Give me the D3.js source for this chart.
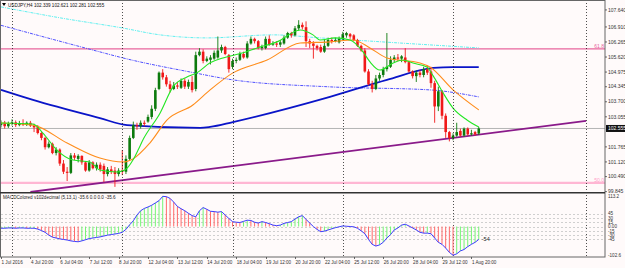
<!DOCTYPE html>
<html>
<head>
<meta charset="utf-8">
<script src="https://cdn.jsdelivr.net/npm/d3@7"></script>
<style>
html, body { margin: 0; padding: 0; background: #fffafa; }
svg { display: block; font-family: "Liberation Sans", Arial, sans-serif; }
</style>
</head>
<body>
<div id="chart"></div>
<script>
const W = 625, H = 268;

// header
const symbol = "USDJPY,H4";
const lastQuote = [102.339, 102.621, 102.281, 102.555];

// H4 candles, first bar = 1 Jul 12:00 : [open, high, low, close]
const ohlc = [
  [102.70,102.90,102.60,102.80],[102.80,102.88,102.55,102.65],[102.65,102.85,102.58,102.75],[102.75,102.95,102.68,102.82],
  [102.82,102.90,102.62,102.70],[102.70,102.88,102.65,102.78],[102.78,102.95,102.66,102.72],[102.72,102.86,102.66,102.80],
  [102.80,102.88,102.62,102.68],[102.68,102.76,102.40,102.60],[102.62,102.70,102.30,102.36],[102.36,102.40,102.05,102.15],
  [102.15,102.20,101.65,101.75],[101.75,102.00,101.70,101.90],[101.90,101.95,101.45,101.50],[101.50,101.75,101.40,101.65],
  [101.65,101.70,100.95,101.05],[101.05,101.20,100.60,100.70],[100.70,100.90,100.30,100.65],[100.65,101.50,100.60,101.40],
  [101.40,101.50,101.20,101.30],[101.25,101.45,101.10,101.38],[101.38,101.40,101.00,101.10],[101.10,101.15,100.70,100.75],
  [100.75,101.20,100.70,101.10],[101.10,101.15,100.80,100.85],[100.85,101.10,100.75,101.00],[101.00,101.10,100.70,100.80],
  [100.95,101.05,100.26,100.60],[100.60,100.90,100.50,100.80],[100.80,100.95,100.60,100.70],[100.75,100.90,100.05,100.60],
  [100.60,100.85,100.50,100.75],[100.75,101.63,100.55,100.70],[100.70,101.40,100.60,101.25],[101.25,102.25,101.20,102.15],
  [102.15,102.85,102.10,102.70],[102.70,102.80,102.50,102.65],[102.65,102.90,102.55,102.80],[102.80,102.90,102.65,102.75],
  [102.85,103.15,102.80,103.05],[103.05,103.55,102.95,103.40],[103.40,104.30,103.30,104.20],[104.25,105.00,104.20,104.95],
  [104.95,105.10,104.65,104.75],[104.75,104.85,104.35,104.45],[104.45,104.60,104.10,104.25],[104.25,104.55,104.20,104.40],
  [104.40,104.55,104.25,104.35],[104.30,104.70,104.25,104.60],[104.60,104.70,104.25,104.35],[104.35,104.65,104.25,104.55],
  [104.55,104.80,104.10,104.20],[104.25,105.85,104.15,105.70],[105.70,106.00,105.65,105.85],[105.85,105.95,105.35,105.45],
  [105.45,105.65,105.40,105.55],[105.50,105.70,105.30,105.60],[105.55,105.90,105.50,105.80],[105.60,106.50,105.55,105.90],
  [105.90,106.15,105.80,106.05],[106.05,106.10,105.70,105.75],[105.70,105.75,104.95,105.10],[105.20,105.55,105.10,105.45],
  [105.45,105.60,105.35,105.50],[105.50,105.85,105.45,105.75],[105.75,105.85,105.55,105.60],[105.60,106.30,105.55,106.20],
  [106.20,106.50,106.15,106.40],[106.40,106.45,106.20,106.30],[106.30,106.35,105.95,106.00],[106.00,106.15,105.90,106.05],
  [106.00,106.50,105.95,106.40],[106.40,106.55,106.10,106.15],[106.15,106.30,106.10,106.20],[106.20,106.30,106.05,106.15],
  [106.15,106.35,106.05,106.25],[106.20,106.55,106.15,106.45],[106.45,106.70,106.40,106.65],[106.65,106.70,106.45,106.55],
  [106.55,106.95,106.50,106.85],[106.85,107.20,106.75,107.00],[107.00,107.10,106.80,106.90],[106.90,107.15,106.05,106.30],
  [106.30,106.40,106.00,106.20],[106.20,106.30,105.55,106.10],[106.10,106.15,105.90,106.00],[106.05,106.15,105.80,105.85],
  [105.85,106.35,105.80,106.10],[106.10,106.45,106.05,106.35],[106.35,106.45,106.20,106.30],[106.30,106.45,106.25,106.35],
  [106.25,106.50,106.20,106.40],[106.40,106.70,106.35,106.60],[106.55,106.70,106.45,106.65],[106.60,106.65,106.40,106.50],
  [106.55,106.60,106.30,106.35],[106.35,106.40,106.05,106.10],[106.10,106.15,105.85,105.90],[105.90,106.00,104.95,105.00],
  [105.00,105.10,104.40,104.45],[104.45,104.60,104.10,104.25],[104.25,104.85,104.20,104.70],[104.70,104.95,104.60,104.85],
  [104.85,105.20,104.75,105.10],[105.10,106.65,105.00,105.20],[105.20,105.65,105.15,105.50],[105.50,105.70,105.40,105.60],
  [105.60,105.75,105.45,105.55],[105.55,105.70,105.40,105.65],[105.60,106.00,105.35,105.40],[105.40,105.45,104.95,105.00],
  [105.00,105.05,104.70,104.80],[104.80,105.05,104.55,104.95],[104.95,105.05,104.75,104.85],[104.85,105.20,104.75,105.10],
  [105.10,105.25,104.85,104.95],[105.00,105.20,104.30,104.50],[104.50,104.60,102.80,103.50],[103.50,104.35,103.30,104.15],
  [104.15,104.20,102.95,103.10],[103.10,103.20,102.15,102.40],[102.40,102.45,102.00,102.15],[102.15,102.35,102.05,102.25],
  [102.25,102.80,102.20,102.40],[102.45,102.55,102.20,102.25],[102.25,102.60,102.20,102.55],[102.55,102.60,102.25,102.30],
  [102.30,102.50,102.25,102.35],[102.40,102.45,102.25,102.30],[102.339,102.621,102.281,102.555]
];

// moving averages: bar index / price
const fastMaIdx = [0,8.7,11.4,15.2,19.6,24.2,26.9,31.6,33.7,35.9,37.3,38.6,43.3,46.8,50.6,53.3,56.9,60.4,65.9,69.7,75.1,81.4,84.9,86.8,90.9,95,98.5,100.4,103.1,106.7,109.4,112.1,115.9,117.6,120.3,123,126.8,130];
const fastMaVal = [102.79,102.75,102.36,101.63,101.20,101.12,100.77,100.69,100.77,101.20,101.63,102.06,103.22,104.34,104.76,104.94,105.37,105.58,105.80,106.01,106.27,106.78,106.57,106.35,106.44,106.35,105.84,105.41,105.06,105.36,105.49,105.36,105.19,104.81,104.08,103.43,102.92,102.62];
const midMaIdx = [0,8.7,18,26.9,33.2,35.9,40.5,45.2,52.2,56.9,63.1,72.4,81.4,89.5,95.8,100.4,105,114,116.7,123,130];
const midMaVal = [102.79,102.70,101.93,101.29,101.12,101.25,101.93,102.92,103.56,104.21,104.94,105.49,106.22,106.27,106.35,106.01,105.58,105.36,105.19,104.21,103.35];
const slowMaIdx = [0,8.7,26.9,34.3,54.2,56.9,63.1,89.5,105,117.6,123,130];
const slowMaVal = [104.21,103.78,103.00,102.70,102.58,102.62,102.83,103.91,104.64,105.15,105.19,105.19];
const dotMaIdx = [0,26.9,33.2,51.4,63.1,89.5,116.7,130];
const dotMaVal = [106.98,105.84,105.58,104.98,104.64,104.34,104.21,103.91];
const cyanMaIdx = [0,16.1,32.9,43.3,56.1,74,86.8,116.7,130];
const cyanMaVal = [107.77,107.30,106.87,106.57,106.44,106.57,106.44,106.14,106.01];

// drawn objects
const trendline = [[8, 99.83], [159.2, 102.88]];
const fibNames = ["61.8", "50.0"];
const fibPrices = [105.97, 100.22];
const separatorIdx = [3, 33, 63, 93, 123, 159.2];

// axes
const priceTicks = [107.640,106.910,106.265,105.620,104.975,104.345,103.700,103.055,101.765,101.120,100.490,99.845];
const timeIdx = [0,8,16,24,32,40,48,56,64,72,80,88,96,104,112,120,128];
const timeLabels = ["1 Jul 2016","4 Jul 20:00","6 Jul 04:00","7 Jul 12:00","8 Jul 20:00","12 Jul 04:00","13 Jul 12:00",
  "14 Jul 20:00","18 Jul 04:00","19 Jul 12:00","20 Jul 20:00","22 Jul 04:00","25 Jul 12:00","26 Jul 20:00",
  "28 Jul 04:00","29 Jul 12:00","1 Aug 20:00"];

// MACD histogram (one value per bar)
const macd = [-6,-6,-5,-5,-6,-5,-5,-6,-6,-6,-9,-14,-20,-30,-37,-40,-43,-45,-47,-50,-52,-53,-50,-46,-42,-40,-38,-36,-33,-30,
  -28,-26,-24,-20,-10,6,20,40,55,63,68,74,82,90,105,104,98,85,70,62,55,46,38,34,55,66,60,53,52,50,
  52,40,28,17,15,14,18,22,21,15,12,17,14,10,5,3,5,11,14,17,26,34,38,25,12,0,-10,-18,-16,-12,
  -8,-4,-1,2,1,0,-1,-6,-15,-25,-45,-62,-68,-64,-55,-40,-28,-12,-5,5,8,2,-5,-12,-20,-23,-23,-25,-40,-55,
  -62,-75,-90,-100,-95,-85,-80,-70,-62,-55,-45];
const macdLevels = [45, 30, 15, 0, -15, -30, -45];
const macdLevelText = ["45", "30", "15", "0.00", "-15", "-30", "-45"];
const macdRange = [-102.6, 113.2];
const macdTitle = "MACDColored v102decimal (5,13,1) -35.6 0.0 0.0 -35.6";
const macdTag = "-54";

const plotR = 605, mainTop = 2, mainBot = 192, subTop = 194, subBot = 256;

const svg = d3.select("#chart").append("svg")
  .attr("width", W).attr("height", H);

svg.append("rect").attr("width", W).attr("height", H).attr("fill", "#fffafa");

const x = d3.scaleLinear().domain([0, 164.35]).range([1, plotR]);
const y = d3.scaleLinear().domain([99.83, 107.98]).range([mainBot, mainTop]);
const ym = d3.scaleLinear().domain(macdRange).range([subBot, subTop]);

const defs = svg.append("defs");
defs.append("clipPath").attr("id", "clipMain")
  .append("rect").attr("x", 0).attr("y", mainTop - 2).attr("width", plotR).attr("height", mainBot - mainTop + 2);

const main = svg.append("g").attr("clip-path", "url(#clipMain)");

// period separators (both panels)
svg.append("g").selectAll("line").data(separatorIdx).enter().append("line")
  .attr("x1", d => Math.round(x(d)) + 0.5).attr("x2", d => Math.round(x(d)) + 0.5)
  .attr("y1", 0).attr("y2", subBot + 1)
  .attr("stroke", "#222").attr("stroke-width", 0.8).attr("stroke-dasharray", "1,2");

// fibonacci levels
main.selectAll(".fib").data(fibPrices).enter().append("line")
  .attr("x1", 0).attr("x2", plotR)
  .attr("y1", d => y(d)).attr("y2", d => y(d))
  .attr("stroke", (d, i) => i === 0 ? "#e8649c" : "#ffb6d3")
  .attr("stroke-width", (d, i) => i === 0 ? 1.1 : 2.4);
svg.selectAll(".fibtxt").data(fibPrices).enter().append("text")
  .attr("x", plotR - 1).attr("y", d => y(d) - 0.5)
  .attr("text-anchor", "end").attr("font-size", 5)
  .attr("fill", (d, i) => i === 0 ? "#e8649c" : "#ff9cc8")
  .text((d, i) => fibNames[i]);

// bid line
main.append("line").attr("x1", 0).attr("x2", plotR)
  .attr("y1", y(lastQuote[3])).attr("y2", y(lastQuote[3]))
  .attr("stroke", "#b4b4b4").attr("stroke-width", 1);

const maLine = (idx, val) => d3.line()
  .x((d, i) => x(idx[i])).y(d => y(d))
  .curve(d3.curveMonotoneX)(val);

main.append("path").attr("d", maLine(cyanMaIdx, cyanMaVal))
  .attr("fill", "none").attr("stroke", "#5ff0f0").attr("stroke-width", 1).attr("stroke-dasharray", "3,1,1,1");
main.append("path").attr("d", maLine(dotMaIdx, dotMaVal))
  .attr("fill", "none").attr("stroke", "#5050ff").attr("stroke-width", 1).attr("stroke-dasharray", "3,1,1,1");
main.append("path").attr("d", maLine(slowMaIdx, slowMaVal))
  .attr("fill", "none").attr("stroke", "#0a14c8").attr("stroke-width", 1.8);

// trend line
main.append("line")
  .attr("x1", x(trendline[0][0])).attr("y1", y(trendline[0][1]))
  .attr("x2", x(trendline[1][0])).attr("y2", y(trendline[1][1]))
  .attr("stroke", "#8a1a8a").attr("stroke-width", 1.8);

// candles
const bw = 2.6;
const candles = main.selectAll(".c").data(ohlc).enter().append("g");
candles.append("line")
  .attr("x1", (d, i) => x(i)).attr("x2", (d, i) => x(i))
  .attr("y1", d => y(d[1])).attr("y2", d => y(d[2]))
  .attr("stroke", d => d[3] >= d[0] ? "#0d7a0d" : "#f01818").attr("stroke-width", 0.9);
candles.append("rect")
  .attr("x", (d, i) => x(i) - bw / 2).attr("width", bw)
  .attr("y", d => y(Math.max(d[0], d[3])))
  .attr("height", d => Math.max(0.8, Math.abs(y(d[0]) - y(d[3]))))
  .attr("fill", d => d[3] >= d[0] ? "#0d7a0d" : "#f01818");

main.append("path").attr("d", maLine(midMaIdx, midMaVal))
  .attr("fill", "none").attr("stroke", "#ff8c1a").attr("stroke-width", 1.1);
main.append("path").attr("d", maLine(fastMaIdx, fastMaVal))
  .attr("fill", "none").attr("stroke", "#22e622").attr("stroke-width", 1.1);

// header
svg.append("path").attr("d", "M2,3 L6,3 L4,6 Z").attr("fill", "#000");
svg.append("text").attr("x", 8).attr("y", 6.5).attr("font-size", 4.6).attr("fill", "#111")
  .text(symbol + "  " + lastQuote.map(v => v.toFixed(3)).join(" "));

// ----- MACD panel -----
const sub = svg.append("g");
sub.selectAll(".lvl").data(macdLevels).enter().append("line")
  .attr("x1", 1).attr("x2", plotR)
  .attr("y1", d => Math.round(ym(d)) + 0.5).attr("y2", d => Math.round(ym(d)) + 0.5)
  .attr("stroke", "#c4c4c4").attr("stroke-width", 0.8).attr("stroke-dasharray", "2,2");

sub.selectAll(".bar").data(macd).enter().append("line")
  .attr("x1", (d, i) => x(i)).attr("x2", (d, i) => x(i))
  .attr("y1", ym(0)).attr("y2", d => ym(d))
  .attr("stroke", (d, i) => (i > 0 && d < macd[i - 1]) ? "#ff6a6a" : "#74f574")
  .attr("stroke-width", 1);

sub.append("path")
  .attr("d", d3.line().x((d, i) => x(i)).y(d => ym(d))(macd))
  .attr("fill", "none").attr("stroke", "#3c3cff").attr("stroke-width", 1);

sub.append("text").attr("x", x(macd.length - 1) + 3).attr("y", ym(macd[macd.length - 1]) + 2)
  .attr("font-size", 5.5).attr("fill", "#222").text(macdTag);

sub.append("text").attr("x", 3).attr("y", subTop + 4.5).attr("font-size", 4.6).attr("fill", "#222")
  .text(macdTitle);

// frames
svg.append("rect").attr("x", 0.5).attr("y", 0.5).attr("width", plotR - 0.5).attr("height", subBot + 0.5)
  .attr("fill", "none").attr("stroke", "#666").attr("stroke-width", 1);
svg.append("line").attr("x1", 0).attr("x2", plotR).attr("y1", mainBot + 0.8).attr("y2", mainBot + 0.8)
  .attr("stroke", "#333").attr("stroke-width", 1.5);

// right price axis
const pAxis = svg.append("g");
pAxis.selectAll("line").data(priceTicks).enter().append("line")
  .attr("x1", plotR).attr("x2", plotR + 2)
  .attr("y1", d => y(d)).attr("y2", d => y(d)).attr("stroke", "#444").attr("stroke-width", 0.8);
pAxis.selectAll("text").data(priceTicks).enter().append("text")
  .attr("x", plotR + 3).attr("y", d => y(d) + 1.7)
  .attr("font-size", 5).attr("fill", "#333")
  .text(d => d.toFixed(3));

pAxis.append("rect").attr("x", plotR + 1).attr("y", y(lastQuote[3]) - 3.5)
  .attr("width", W - plotR - 1).attr("height", 7).attr("fill", "#111");
pAxis.append("text").attr("x", plotR + 3).attr("y", y(lastQuote[3]) + 1.7)
  .attr("font-size", 5).attr("fill", "#fff").text(lastQuote[3].toFixed(3));

// MACD axis
const mAxis = svg.append("g");
mAxis.selectAll("text.l").data(macdLevels).enter().append("text")
  .attr("x", plotR + 3).attr("y", d => ym(d) + 1.7)
  .attr("font-size", 4.6).attr("fill", "#333")
  .text((d, i) => macdLevelText[i]);
mAxis.append("text").attr("x", plotR + 3).attr("y", subTop + 3.5).attr("font-size", 4.6).attr("fill", "#333")
  .text(macdRange[1].toFixed(1));
mAxis.append("text").attr("x", plotR + 3).attr("y", subBot + 0.5).attr("font-size", 4.6).attr("fill", "#333")
  .text(macdRange[0].toFixed(1));

// time axis
const tAxis = svg.append("g");
tAxis.selectAll("line").data(timeIdx).enter().append("line")
  .attr("x1", d => Math.round(x(d)) + 0.5).attr("x2", d => Math.round(x(d)) + 0.5)
  .attr("y1", subBot + 1).attr("y2", subBot + 3).attr("stroke", "#444").attr("stroke-width", 0.8);
tAxis.selectAll("text").data(timeIdx).enter().append("text")
  .attr("x", d => x(d) + 0.5).attr("y", subBot + 7.5)
  .attr("font-size", 4.6).attr("fill", "#333")
  .text((d, i) => timeLabels[i]);
</script>
</body>
</html>
